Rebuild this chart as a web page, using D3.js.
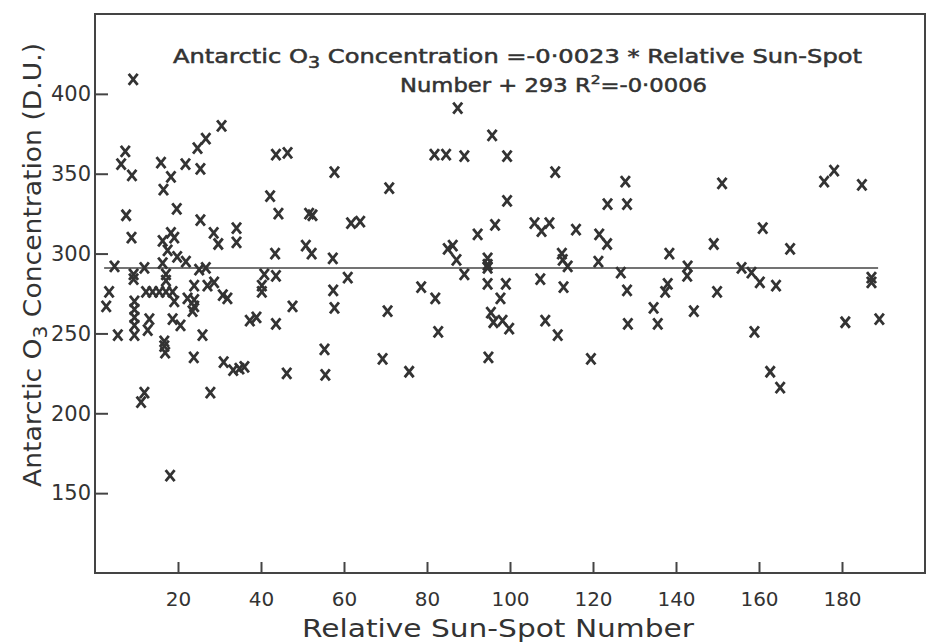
<!DOCTYPE html>
<html>
<head>
<meta charset="utf-8" />
<title>Antarctic O3 vs sun-spot number</title>
<script src="https://cdn.jsdelivr.net/npm/d3@7"></script>
<style>
  body { margin: 0; background: #fff; }
  svg text { font-family: "DejaVu Sans", sans-serif; fill: #333; }
  .frame { fill: none; stroke: #444; stroke-width: 2px; }
  .tick line { stroke: #444; stroke-width: 2px; }
  .mark { fill: none; stroke: #333; stroke-width: 2.8px; }
  .fit { stroke: #444; stroke-width: 1.6px; }
  .eq { stroke: #333; stroke-width: 0.5px; }
</style>
</head>
<body>
<div id="chart"></div>
<script>
var width = 928, height = 643;

// relative sun-spot number (x) and O3 in D.U. (y)
var sunspot = [
  9.2, 7.3, 6.3, 8.9, 15.9, 18.3, 16.5, 21.8, 24.7, 26.7, 30.5, 25.4, 43.6, 46.4, 7.5, 8.8, 19.7, 25.4, 28.6, 29.7,
  34.1, 34.1, 42.2, 44.2, 51.6, 50.8, 43.4, 18.3, 16.3, 19.1, 17.5, 19.8, 21.9, 16.3, 4.7, 11.9, 25.1, 26.7,
  9.3, 9.3, 17.1, 17.1, 40.8, 43.6, 3.4, 2.7, 9.5, 9.5, 9.5, 9.5, 9.5, 5.5, 12.7, 13.1, 12.3, 13.9, 15.5, 17.1,
  18.7, 19.1, 18.7, 20.6, 16.7, 16.7, 16.9, 22.3, 23.9, 23.9, 23.5, 23.9, 27.1, 28.7, 30.8, 31.9, 25.9, 23.8, 31.0, 33.3,
  34.8, 36.0, 11.9, 11.1, 27.8, 18.1, 37.3, 38.9, 40.2, 40.2, 43.6, 47.6, 46.2,
  87.4, 95.7, 81.8, 84.6, 89.0, 99.3, 57.7, 70.9, 110.9, 99.3, 123.5, 52.4, 61.7, 63.9, 92.2, 96.4, 105.9, 107.6, 109.5, 115.9,
  121.5, 123.4, 52.2, 57.3, 85.0, 86.2, 87.1, 94.6, 94.6, 94.6, 89.0, 60.9, 112.5, 112.7, 113.9, 121.3, 107.3, 57.4, 57.7, 70.5,
  78.6, 82.0, 94.6, 99.0, 97.7, 95.4, 96.0, 98.2, 99.8, 108.5, 111.5, 112.9, 82.7, 55.3, 55.5, 69.3, 75.7, 94.8, 119.5,
  127.8, 128.2, 151.1, 175.7, 178.1, 184.8, 160.9, 167.5, 149.1, 138.4, 126.7, 128.2, 128.4, 138.0, 137.4, 134.6, 135.6, 142.8, 142.7, 144.3,
  149.9, 155.8, 158.2, 160.2, 164.1, 158.9, 162.7, 165.1, 187.1, 187.1, 180.8, 189.0
];
var ozone = [
  409, 364, 356, 349, 357, 348, 340, 356, 366, 372, 380, 353, 362, 363, 324, 310, 328, 321, 313, 306,
  316, 307, 336, 325, 325, 305, 300, 313, 308, 310, 302, 298, 295, 294, 292, 291, 290, 291,
  287, 284, 287, 283, 287, 286, 276, 267, 270, 265, 260, 255, 249, 249, 252, 259, 276, 276, 276, 276,
  276, 270, 259, 255, 245, 242, 238, 272, 271, 267, 264, 280, 280, 282, 274, 272, 249, 235, 232, 227,
  228, 229, 213, 207, 213, 161, 258, 260, 280, 276, 256, 267, 225,
  391, 374, 362, 362, 361, 361, 351, 341, 351, 333, 331, 324, 319, 320, 312, 318, 319, 314, 319, 315,
  312, 306, 300, 297, 303, 305, 296, 297, 293, 291, 287, 285, 300, 296, 292, 295, 284, 277, 266, 264,
  279, 272, 281, 281, 272, 263, 257, 258, 253, 258, 249, 279, 251, 240, 224, 234, 226, 235, 234,
  345, 331, 344, 345, 352, 343, 316, 303, 306, 300, 288, 277, 256, 281, 276, 266, 256, 292, 286, 264,
  276, 291, 288, 282, 280, 251, 226, 216, 285, 282, 257, 259
];

// regression line as drawn
var fitX = [2.2, 188.7];
var fitY = [291, 291];

var xTicks = [20, 40, 60, 80, 100, 120, 140, 160, 180];
var yTicks = [150, 200, 250, 300, 350, 400];

var x = d3.scaleLinear().domain([0, 200]).range([95, 925]);
var y = d3.scaleLinear().domain([100, 450]).range([573, 14]);

var svg = d3.select("#chart").append("svg")
  .attr("width", width)
  .attr("height", height);

// frame
svg.append("rect")
  .attr("class", "frame")
  .attr("x", x(0)).attr("y", y(450))
  .attr("width", x(200) - x(0))
  .attr("height", y(100) - y(450));

// x axis, ticks point inwards
var xAxis = svg.append("g")
  .attr("transform", "translate(0," + y(100) + ")")
  .call(d3.axisBottom(x).tickValues(xTicks).tickSize(-11).tickPadding(19));
xAxis.select(".domain").remove();
xAxis.selectAll("text").style("font-size", "20px").attr("fill", "#333");

var yAxis = svg.append("g")
  .attr("transform", "translate(" + x(0) + ",0)")
  .call(d3.axisLeft(y).tickValues(yTicks).tickSize(-13).tickPadding(4));
yAxis.select(".domain").remove();
yAxis.selectAll("text").style("font-size", "21px").attr("fill", "#333");

// fit line
svg.append("line")
  .attr("class", "fit")
  .attr("x1", x(fitX[0])).attr("y1", y(fitY[0]))
  .attr("x2", x(fitX[1])).attr("y2", y(fitY[1]));

// x markers
var pts = sunspot.map(function(s, i) { return [s, ozone[i]]; });
svg.append("g").selectAll("path")
  .data(pts)
  .enter()
  .append("path")
  .attr("class", "mark")
  .attr("transform", function(d) { return "translate(" + x(d[0]) + "," + y(d[1]) + ")"; })
  .attr("d", "M-4.5,-5.5L4.5,5.5M4.5,-5.5L-4.5,5.5");

// equation
var eq1 = svg.append("text")
  .attr("class", "eq")
  .attr("x", 173).attr("y", 63)
  .attr("textLength", 689).attr("lengthAdjust", "spacingAndGlyphs")
  .style("font-size", "19px");
eq1.append("tspan").text("Antarctic O");
eq1.append("tspan").attr("dy", 5).style("font-size", "15px").text("3");
eq1.append("tspan").attr("dy", -5).text(" Concentration =-0·0023 * Relative  Sun-Spot");

var eq2 = svg.append("text")
  .attr("class", "eq")
  .attr("x", 400).attr("y", 92)
  .attr("textLength", 307).attr("lengthAdjust", "spacingAndGlyphs")
  .style("font-size", "19px");
eq2.append("tspan").text("Number + 293 R");
eq2.append("tspan").attr("dy", -8).style("font-size", "13px").text("2");
eq2.append("tspan").attr("dy", 8).text("=-0·0006");

// axis titles
svg.append("text")
  .attr("x", 498).attr("y", 637)
  .attr("text-anchor", "middle")
  .attr("textLength", 392).attr("lengthAdjust", "spacingAndGlyphs")
  .style("font-size", "24px")
  .text("Relative  Sun-Spot  Number");

var yt = svg.append("text")
  .attr("transform", "translate(41,265) rotate(-90)")
  .attr("text-anchor", "middle")
  .attr("textLength", 444).attr("lengthAdjust", "spacingAndGlyphs")
  .style("font-size", "25px");
yt.append("tspan").text("Antarctic O");
yt.append("tspan").attr("dy", 6).style("font-size", "19px").text("3");
yt.append("tspan").attr("dy", -6).text(" Concentration (D.U.)");
</script>
</body>
</html>
